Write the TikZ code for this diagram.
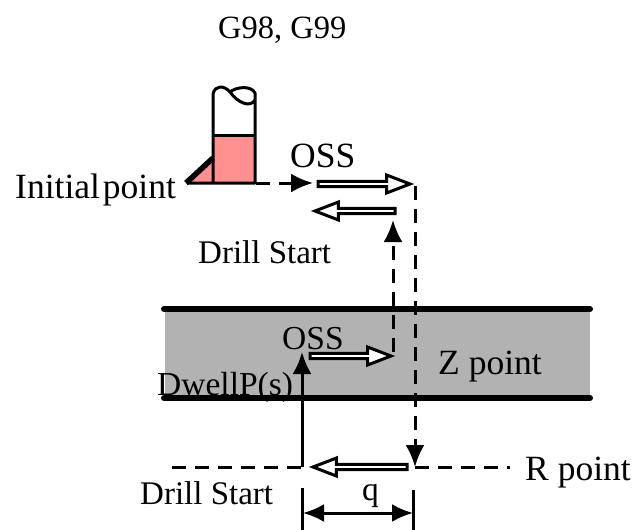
\documentclass[tikz,border=0pt]{standalone}
\usepackage{fontspec}
\setmainfont{Liberation Serif}
\usetikzlibrary{arrows.meta,shapes.arrows}
\definecolor{toolred}{HTML}{FF9090}
\definecolor{workgray}{HTML}{B2B2B2}
\begin{document}
\begin{tikzpicture}[
      x=1pt, y=-1pt,
      label/.style={anchor=base west, inner sep=0pt, font=\fontsize{33.5}{36}\selectfont},
      biglabel/.style={label, font=\fontsize{35.5}{38}\selectfont},
      blockarrow/.style={single arrow, draw=black, fill=white, line width=3pt, anchor=tail,
                    minimum width=18pt, single arrow head extend=3.5pt, single arrow tip angle=42,
                    inner sep=0pt, outer sep=0pt},
      back/.style={blockarrow, shape border rotate=180},
      arrow/.style={-{Latex[length=22pt,width=19pt]}, line width=3pt},
      dashline/.style={line width=3pt, dash pattern=on 14pt off 9pt},
      edge/.style={line width=6pt, line cap=round},
      toolline/.style={line width=3pt, line join=round}
    ]
    \useasboundingbox (0,0) rectangle (632,530);
    % workpiece
    \fill[workgray] (165,309) rectangle (590,399);
    \coordinate (topL) at (164,309);
    \coordinate (topR) at (590,309);
    \coordinate (botL) at (164,398);
    \coordinate (botR) at (590,398);
    \draw[edge] (topL) -- (topR);
    \draw[edge] (botL) -- (botR);
    % tool
    \fill[toolred] (213,135) rectangle (255,183);
    \fill[toolred] (187,183) -- (212,160) -- (212,183) -- cycle;
    \draw[toolline] (213,183) -- (213,94) .. controls (215,85) and (224,85) .. (230,92)
       .. controls (238,103) and (250,108) .. (255,100) (230,92) .. controls (236,87) and (251,85) .. (255,93)
       -- (255,183) -- (187,183);
    \draw[toolline] (213,135) -- (255,135);
    \draw[line width=5.5pt] (186,183) -- (213,158);
    % points
    \coordinate (initial) at (256,183);
    \coordinate (rapid) at (313,183);
    \coordinate (topdrop) at (415,186);
    \coordinate (rdrop) at (415,467);
    \coordinate (upA) at (393,352);
    \coordinate (upB) at (393,220);
    \coordinate (rleft) at (172,467);
    \coordinate (rhole) at (302,467);
    \coordinate (rright) at (510,467);
    \coordinate (dwell) at (302,352);
    \coordinate (tickAtop) at (302,488);
    \coordinate (tickAbot) at (302,530);
    \coordinate (tickBtop) at (413,490);
    \coordinate (tickBbot) at (413,530);
    \coordinate (dimA) at (303,513);
    \coordinate (dimB) at (413,513);
    % block arrows
    \node[blockarrow, minimum height=92pt] (oss1) at (318,184) {};
    \node[back, minimum height=80pt] (ret1) at (395,211) {};
    \node[blockarrow, minimum height=81pt] (oss2) at (310,356) {};
    \node[back, minimum height=94pt] (ret2) at (407,467) {};
    % labels
    \node[label, font=\fontsize{32.5}{36}\selectfont] (title) at (218,38) {G98, G99};
    \node[biglabel] (ossA) at (290,167) {OSS};
    \node[biglabel] (init) at (15,198) {Initial\kern3pt point};
    \node[label, font=\fontsize{33}{36}\selectfont] (startA) at (198,263) {Drill Start};
    \node[label] (ossB) at (282,349) {OSS};
    \node[label] (dwelltxt) at (157,395) {DwellP(s)};
    \node[biglabel] (zpt) at (438,374) {Z point};
    \node[label, font=\fontsize{33}{36}\selectfont] (startB) at (140,504) {Drill Start};
    \node[biglabel] (rpt) at (525,480) {R point};
    \node[label] (qtxt) at (362,500) {q};
    % connectors
    \draw[dashline, arrow] (initial) -- (rapid);
    \draw[dashline, arrow] (topdrop) -- (rdrop);
    \draw[dashline, arrow] (upA) -- (upB);
    \draw[dashline] (rleft) -- (rhole);
    \draw[dashline] (rdrop) -- (rright);
    \draw[arrow] (rhole) -- (dwell);
    \draw[line width=3pt] (tickAtop) -- (tickAbot);
    \draw[line width=3pt] (tickBtop) -- (tickBbot);
    \draw[{Latex[length=21pt,width=18pt]}-{Latex[length=21pt,width=18pt]}, line width=3pt] (dimA) -- (dimB);
  \end{tikzpicture}
\end{document}
